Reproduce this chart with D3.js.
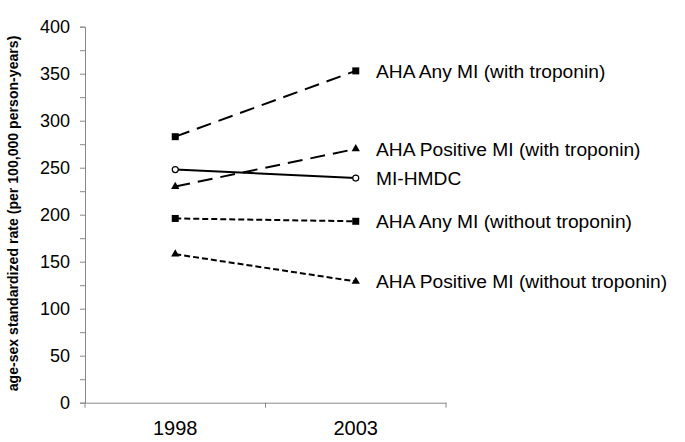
<!DOCTYPE html>
<html><head><meta charset="utf-8">
<script src="https://cdn.jsdelivr.net/npm/d3@7"></script>
<style>body{margin:0;background:#fff;} text{font-family:"Liberation Sans",Arial,sans-serif;}</style>
</head><body><svg id="c" width="685" height="442"></svg>
<script>
const years = ["1998", "2003"];
const seriesNames = ["AHA Any MI (with troponin)", "AHA Positive MI (with troponin)", "MI-HMDC", "AHA Any MI (without troponin)", "AHA Positive MI (without troponin)"];
const anyWithTrop = [283, 353];
const posWithTrop = [230, 270];
const miHmdc = [248, 239];
const anyWithoutTrop = [196, 193];
const posWithoutTrop = [158, 129];
const yTicks = [0, 50, 100, 150, 200, 250, 300, 350, 400];
const yLabel = "age-sex standardized rate (per 100,000 person-years)";

(function () {
const series = [
  {name: seriesNames[0], values: anyWithTrop, dash: "15,8", marker: "square"},
  {name: seriesNames[1], values: posWithTrop, dash: "15,8", marker: "triangle"},
  {name: seriesNames[2], values: miHmdc, dash: null, marker: "circle"},
  {name: seriesNames[3], values: anyWithoutTrop, dash: "6,3", marker: "square"},
  {name: seriesNames[4], values: posWithoutTrop, dash: "6,3", marker: "triangle"}
];

const svg = d3.select("#c");
const mLeft = 85, mRight = 446, mTop = 26.7, mBottom = 402.7;
const x = d3.scaleBand().domain(years).range([mLeft, mRight]);
const y = d3.scaleLinear().domain([0, 400]).range([mBottom, mTop]);
const axisColor = "#888";

const ya = svg.append("g").attr("transform", `translate(${mLeft},0)`)
  .call(d3.axisLeft(y).tickValues(d3.range(0, 401, 25)).tickSize(5).tickFormat(d => yTicks.includes(d) ? d : ""));
ya.select(".domain").attr("stroke", axisColor);
ya.selectAll(".tick line").attr("stroke", axisColor);
ya.selectAll(".tick text").attr("font-size", 18).attr("fill", "#000").attr("x", -15);

const xa = svg.append("g").attr("transform", `translate(0,${mBottom})`)
  .call(d3.axisBottom(x).tickSize(0).tickSizeOuter(0));
xa.select(".domain").attr("stroke", axisColor);
xa.selectAll(".tick text").attr("font-size", 20).attr("fill", "#000").attr("dy", 0).attr("y", 32);
const bounds = [mLeft, ...years.map(d => x(d) + x.bandwidth())];
svg.append("g").selectAll("line").data(bounds).join("line")
  .attr("x1", d => d).attr("x2", d => d).attr("y1", mBottom).attr("y2", mBottom + 5)
  .attr("stroke", axisColor);

svg.append("text").attr("transform", `translate(17.5,213.5) rotate(-90)`)
  .attr("text-anchor", "middle").attr("font-size", 14.1).attr("font-weight", "bold").attr("fill", "#000")
  .text(yLabel);

const cx = d => x(d) + x.bandwidth() / 2;
const line = d3.line().x((v, i) => cx(years[i])).y(v => y(v));

series.forEach(s => {
  svg.append("path").attr("d", line(s.values)).attr("fill", "none").attr("stroke", "#000")
    .attr("stroke-width", 2).attr("stroke-dasharray", s.dash);
  const g = svg.append("g");
  s.values.forEach((v, i) => {
    const px = cx(years[i]), py = y(v);
    if (s.marker === "square") {
      g.append("rect").attr("x", px - 3.5).attr("y", py - 3.5).attr("width", 7).attr("height", 7).attr("fill", "#000");
    } else if (s.marker === "triangle") {
      g.append("path").attr("d", d3.symbol(d3.symbolTriangle, 30)()).attr("transform", `translate(${px},${py})`).attr("fill", "#000");
    } else {
      g.append("circle").attr("cx", px).attr("cy", py).attr("r", 3).attr("fill", "#fff").attr("stroke", "#000").attr("stroke-width", 1.2);
    }
  });
  svg.append("text").attr("x", 376).attr("y", y(s.values[1])).attr("dy", "0.35em")
    .attr("font-size", 19.2).attr("fill", "#000").text(s.name);
});
})();
</script></body></html>
